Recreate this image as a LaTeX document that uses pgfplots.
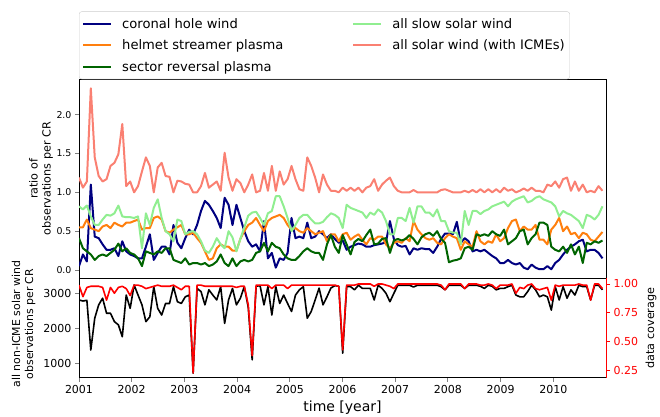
\documentclass[border=0pt]{standalone}
\usepackage{fontspec}
\setmainfont{DejaVu Sans}
\setsansfont{DejaVu Sans}
\usepackage{pgfplots}
\usepackage{pgfplotstable}
\pgfplotsset{compat=1.18}
\definecolor{mnavy}{RGB}{0,0,128}
\definecolor{morange}{RGB}{255,127,14}
\definecolor{mdgreen}{RGB}{0,100,0}
\definecolor{mlgreen}{RGB}{144,238,144}
\definecolor{msalmon}{RGB}{250,128,114}
\definecolor{mred}{RGB}{255,0,0}
\pgfplotsset{
  mybase/.style={scale only axis, width=527pt, xmin=1972, xmax=2105.9,
    tick align=outside, major tick length=4pt,
    axis line style={line width=0.9pt}, tick style={line width=0.9pt},
    /pgf/number format/assume math mode=true},
}
\pgfplotstableread{
cr ch hs sr sl al obs cov
1972 0.05 0.55 0.41 0.82 1.19 2810 0.99
1973 0.20 0.55 0.28 0.78 1.06 2780 0.89
1974 0.11 0.65 0.24 0.83 1.14 2800 0.97
1975 1.10 0.54 0.20 0.69 2.34 1380 0.98
1976 0.43 0.52 0.13 0.58 1.45 2290 0.98
1977 0.41 0.50 0.18 0.58 1.21 2670 0.98
1978 0.33 0.56 0.20 0.65 1.14 2860 0.97
1979 0.26 0.58 0.18 0.71 1.17 2430 0.86
1980 0.26 0.54 0.22 0.70 1.34 2430 0.97
1981 0.28 0.61 0.26 0.73 1.38 2190 0.92
1982 0.18 0.58 0.34 0.83 1.49 2100 0.97
1983 0.37 0.56 0.24 0.69 1.88 1760 0.98
1984 0.24 0.61 0.28 0.68 1.08 2950 0.96
1985 0.20 0.61 0.22 0.68 1.14 2570 0.90
1986 0.18 0.63 0.20 0.67 1.00 3240 0.99
1987 0.15 0.65 0.15 0.69 1.08 2950 0.99
1988 0.15 0.52 0.05 0.28 1.27 2670 0.98
1989 0.30 0.54 0.24 0.73 1.45 2190 0.96
1990 0.46 0.54 0.22 0.58 1.34 2330 0.97
1991 0.13 0.67 0.20 0.80 1.00 3190 0.98
1992 0.22 0.69 0.24 0.91 1.32 2570 0.99
1993 0.30 0.65 0.22 0.67 1.38 2380 0.98
1994 0.30 0.50 0.28 0.50 1.21 2710 0.98
1995 0.20 0.48 0.28 0.46 1.20 2710 0.98
1996 0.58 0.52 0.13 0.37 1.00 3190 0.99
1997 0.35 0.55 0.11 0.65 1.15 2760 0.97
1998 0.28 0.58 0.09 0.63 1.14 2710 0.95
1999 0.41 0.46 0.15 0.46 1.11 2900 0.98
2000 0.52 0.46 0.07 0.49 1.10 2950 0.98
2001 0.46 0.48 0.09 0.50 1.00 720 0.23
2002 0.58 0.41 0.09 0.46 1.00 3140 0.99
2003 0.76 0.35 0.07 0.37 1.08 3050 0.99
2004 0.89 0.24 0.09 0.25 1.25 2670 0.98
2005 0.84 0.13 0.05 0.22 1.06 3100 0.98
2006 0.76 0.15 0.07 0.30 1.10 2950 0.98
2007 0.67 0.28 0.11 0.41 1.14 2810 0.98
2008 0.54 0.33 0.20 0.33 1.02 3190 0.98
2009 0.93 0.30 0.09 0.28 1.51 2140 0.98
2010 0.84 0.30 0.05 0.50 1.19 2810 0.98
2011 0.58 0.25 0.15 0.42 1.02 3140 0.98
2012 0.84 0.25 0.05 0.24 1.17 2670 0.97
2013 0.67 0.40 0.11 0.40 1.12 2860 0.98
2014 0.50 0.50 0.13 0.55 1.00 3190 0.98
2015 0.37 0.58 0.11 0.70 1.10 2600 0.82
2016 0.30 0.61 0.13 0.74 1.23 1100 0.38
2017 0.33 0.67 0.22 0.75 1.00 3200 0.99
2018 0.24 0.58 0.24 0.67 1.02 3220 0.99
2019 0.63 0.50 0.35 0.58 1.25 2670 0.99
2020 0.15 0.63 0.24 0.73 1.02 3190 0.99
2021 0.22 0.67 0.35 0.76 1.34 2380 0.96
2022 0.03 0.69 0.30 0.95 1.02 3190 0.99
2023 0.15 0.71 0.28 0.95 1.27 2710 0.99
2024 0.13 0.67 0.20 0.82 1.10 2950 0.99
2025 0.22 0.58 0.15 0.67 1.17 2710 0.96
2026 0.67 0.52 0.13 0.50 1.34 2480 0.99
2027 0.41 0.54 0.13 0.58 1.17 2950 0.99
2028 0.43 0.50 0.18 0.67 1.04 3100 0.99
2029 0.41 0.48 0.24 0.71 1.02 3190 0.99
2030 0.61 0.54 0.28 0.71 1.45 2290 0.99
2031 0.41 0.50 0.24 0.65 1.34 2480 0.99
2032 0.43 0.46 0.22 0.60 1.19 2810 0.99
2033 0.50 0.48 0.22 0.60 1.00 3150 0.99
2034 0.46 0.50 0.13 0.62 1.23 2670 0.99
2035 0.41 0.37 0.33 0.68 1.10 2900 0.99
2036 0.46 0.46 0.45 0.73 1.02 3150 0.99
2037 0.40 0.46 0.30 0.71 1.02 3220 0.99
2038 0.35 0.37 0.22 0.67 1.00 3200 0.98
2039 0.38 0.46 0.45 0.54 1.06 1290 0.43
2040 0.26 0.48 0.33 0.84 1.02 3190 0.99
2041 0.30 0.39 0.20 0.80 1.06 3190 0.99
2042 0.32 0.43 0.36 0.78 1.02 3100 0.99
2043 0.34 0.46 0.40 0.76 1.06 3230 1.00
2044 0.33 0.39 0.37 0.74 1.00 3140 1.00
2045 0.30 0.33 0.45 0.67 1.06 3140 1.00
2046 0.30 0.41 0.52 0.74 1.08 3140 1.00
2047 0.32 0.39 0.33 0.71 1.17 2810 0.98
2048 0.33 0.43 0.34 0.78 1.02 3230 1.00
2049 0.34 0.43 0.40 0.74 1.10 3140 1.00
2050 0.36 0.33 0.41 0.63 1.15 3000 0.99
2051 0.63 0.28 0.22 0.46 1.19 2760 0.98
2052 0.40 0.35 0.38 0.46 1.08 3000 0.96
2053 0.32 0.37 0.40 0.67 1.02 3230 1.00
2054 0.30 0.35 0.38 0.67 1.00 3230 1.00
2055 0.31 0.41 0.40 0.63 1.00 3230 1.00
2056 0.20 0.37 0.45 0.80 1.00 3230 1.00
2057 0.28 0.63 0.40 0.61 1.03 3180 1.00
2058 0.26 0.52 0.33 0.82 1.00 3230 1.00
2059 0.28 0.46 0.42 0.82 1.00 3230 1.00
2060 0.27 0.41 0.46 0.74 1.00 3230 1.00
2061 0.27 0.39 0.48 0.74 1.00 3230 1.00
2062 0.22 0.41 0.44 0.69 1.00 3230 1.00
2063 0.30 0.35 0.50 0.78 1.00 3230 1.00
2064 0.40 0.33 0.40 0.63 1.03 3190 0.99
2065 0.47 0.41 0.35 0.63 1.04 3100 0.95
2066 0.47 0.46 0.10 0.50 1.02 3230 1.00
2067 0.46 0.43 0.12 0.48 1.00 3230 1.00
2068 0.62 0.41 0.13 0.48 1.00 3230 1.00
2069 0.35 0.26 0.15 0.33 1.00 3230 1.00
2070 0.41 0.37 0.28 0.76 1.02 3140 0.96
2071 0.37 0.33 0.30 0.58 1.00 3230 1.00
2072 0.24 0.30 0.26 0.76 1.03 3230 1.00
2073 0.26 0.50 0.46 0.76 1.00 3230 1.00
2074 0.24 0.37 0.44 0.72 1.04 3200 0.99
2075 0.26 0.33 0.46 0.76 1.00 3140 0.99
2076 0.22 0.37 0.44 0.78 1.04 3230 1.00
2077 0.18 0.35 0.50 0.82 1.00 3200 0.99
2078 0.15 0.46 0.46 0.84 1.04 3100 0.96
2079 0.09 0.37 0.44 0.86 1.00 3140 0.99
2080 0.09 0.41 0.52 0.88 1.06 3140 0.99
2081 0.13 0.54 0.33 0.82 1.02 3190 0.99
2082 0.09 0.63 0.37 0.88 1.04 3230 1.00
2083 0.07 0.65 0.41 0.91 1.00 2950 0.92
2084 0.09 0.50 0.50 0.93 1.02 2900 0.97
2085 0.03 0.56 0.52 0.95 1.05 2900 0.96
2086 0.01 0.52 0.33 0.87 1.02 3050 0.99
2087 0.07 0.52 0.41 0.89 1.06 3230 1.00
2088 0.03 0.58 0.46 0.93 1.02 3100 0.96
2089 0.01 0.39 0.61 0.95 1.02 2900 0.95
2090 0.01 0.39 0.61 0.91 1.00 2950 0.96
2091 0.05 0.33 0.58 0.89 1.10 2900 0.97
2092 0.01 0.52 0.30 0.87 1.08 2520 0.86
2093 0.09 0.58 0.26 0.82 1.14 3190 0.99
2094 0.13 0.67 0.24 0.69 1.06 2810 0.98
2095 0.20 0.50 0.30 0.76 1.17 3190 0.99
2096 0.26 0.56 0.22 0.73 1.19 2860 0.99
2097 0.30 0.46 0.33 0.71 1.02 3100 0.99
2098 0.33 0.48 0.20 0.67 1.14 2950 0.99
2099 0.37 0.41 0.30 0.63 1.02 3230 1.00
2100 0.39 0.48 0.09 0.54 1.10 3190 0.99
2101 0.24 0.46 0.35 0.71 1.00 3190 0.99
2102 0.26 0.39 0.33 0.69 1.02 2810 0.86
2103 0.26 0.37 0.37 0.65 1.00 3230 1.00
2104 0.22 0.43 0.35 0.71 1.08 3230 1.00
2105 0.15 0.49 0.38 0.82 1.02 3100 0.96
}\data
\begin{document}
\begin{tikzpicture}
\path[use as bounding box] (0pt,0pt) rectangle (660pt,-416pt);
% ---------------- top panel ----------------
\begin{axis}[mybase,
  at={(79pt,-79.5pt)}, anchor=north west, height=198.8pt,
  ymin=-0.107, ymax=2.453,
  xtick=\empty, ytick={0,0.5,1,1.5,2}, ytick pos=left,
  yticklabel style={font=\fontsize{9.4}{11}\selectfont,
    /pgf/number format/fixed, /pgf/number format/fixed zerofill, /pgf/number format/precision=1},
  ylabel={ratio of\\observations per CR},
  ylabel style={align=center, font=\fontsize{11.2}{13}\selectfont,
    at={(axis description cs:-0.0721,0.5)}, anchor=center},
  legend columns=2, legend cell align=left,
  legend image code/.code={\draw[#1] (0pt,0pt) -- (28pt,0pt);},
  legend style={at={(rel axis cs:0,1)}, anchor=south west, yshift=0.3pt,
    draw=black!20, fill=white,
    rounded corners=2.5pt, font=\fontsize{13.1}{15}\selectfont,
    inner xsep=3pt, inner ysep=4.5pt, row sep=6pt,
    /tikz/every odd column/.style={column sep=8pt},
    /tikz/column 2/.style={column sep=67pt}},
  every axis plot/.append style={line width=2pt, line join=round},
]
\addlegendimage{mnavy, line width=2pt}\addlegendentry{coronal hole wind}
\addlegendimage{mlgreen, line width=2pt}\addlegendentry{all slow solar wind}
\addlegendimage{morange, line width=2pt}\addlegendentry{helmet streamer plasma}
\addlegendimage{msalmon, line width=2pt}\addlegendentry{all solar wind (with ICMEs)}
\addlegendimage{mdgreen, line width=2pt}\addlegendentry{sector reversal plasma}
\addplot[mnavy, forget plot] table[x=cr, y=ch] {\data};
\addplot[morange, forget plot] table[x=cr, y=hs] {\data};
\addplot[mdgreen, forget plot] table[x=cr, y=sr] {\data};
\addplot[mlgreen, forget plot] table[x=cr, y=sl] {\data};
\addplot[msalmon, forget plot] table[x=cr, y=al] {\data};
\end{axis}
% ---------------- bottom panel, left axis ----------------
\begin{axis}[mybase,
  at={(79pt,-278.3pt)}, anchor=north west, height=99.4pt,
  ymin=588.6, ymax=3428.6,
  xtick={1972,1985.39,1998.78,2012.17,2025.56,2038.95,2052.34,2065.73,2079.12,2092.51},
  xticklabels={2001,2002,2003,2004,2005,2006,2007,2008,2009,2010},
  xtick pos=bottom,
  ytick={1000,2000,3000}, ytick pos=left,
  ticklabel style={font=\fontsize{11}{13}\selectfont},
  /pgf/number format/set thousands separator={},
  xlabel={time [year]},
  xlabel style={font=\fontsize{14}{16}\selectfont, at={(axis description cs:0.5,-0.298)}, anchor=center},
  ylabel={all non-ICME solar wind\\observations per CR},
  ylabel style={align=center, font=\fontsize{10.9}{13}\selectfont,
    at={(axis description cs:-0.1053,0.54)}, anchor=center},
]
\addplot[black, line width=1.6pt, line join=round] table[x=cr, y=obs] {\data};
\end{axis}
% ---------------- bottom panel, right axis ----------------
\begin{axis}[mybase,
  at={(79pt,-278.3pt)}, anchor=north west, height=99.4pt,
  ymin=0.189, ymax=1.049,
  axis x line=none, axis y line*=right,
  y axis line style={mred},
  ytick={0.25,0.5,0.75,1}, ytick style={mred},
  yticklabel style={font=\fontsize{11}{13}\selectfont, text=mred,
    /pgf/number format/fixed, /pgf/number format/fixed zerofill, /pgf/number format/precision=2},
  ylabel={data coverage},
  ylabel style={font=\fontsize{11.2}{13}\selectfont, at={(axis description cs:1.0854,0.5)}, anchor=center},
]
\addplot[mred, line width=1.6pt, line join=round] table[x=cr, y=cov] {\data};
\end{axis}
\end{tikzpicture}
\end{document}
